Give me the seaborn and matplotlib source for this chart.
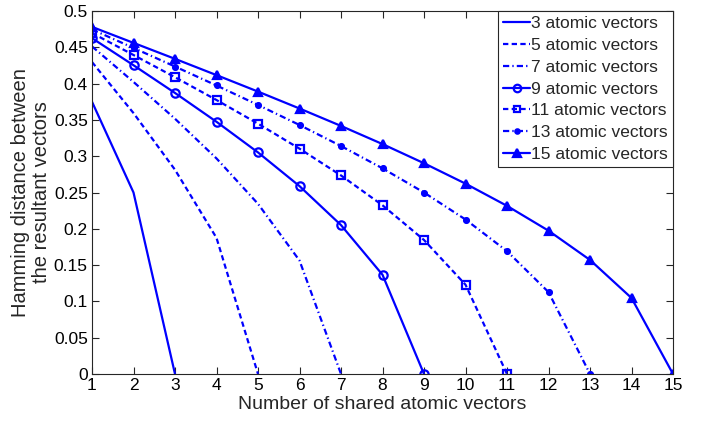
import matplotlib
matplotlib.use("Agg")
import matplotlib.pyplot as plt
import seaborn as sns
import pandas as pd

# Data: Hamming distance between resultant vectors vs number of shared atomic vectors
n3 = [0.375, 0.25, 0.0]
n5 = [0.4297, 0.3594, 0.2813, 0.1875, 0.0]
n7 = [0.4512, 0.4023, 0.3516, 0.2969, 0.2344, 0.1563, 0.0]
n9 = [0.4626, 0.4253, 0.3871, 0.3474, 0.3052, 0.2588, 0.2051, 0.1367, 0.0]
n11 = [0.4697, 0.4394, 0.4088, 0.3774, 0.3448, 0.3104, 0.2735, 0.2324, 0.1846, 0.1230, 0.0]
n13 = [0.4746, 0.4491, 0.4235, 0.3974, 0.3706, 0.3430, 0.3140, 0.2833, 0.2500, 0.2128,
       0.1692, 0.1128, 0.0]
n15 = [0.4781, 0.4561, 0.4341, 0.4117, 0.3890, 0.3657, 0.3417, 0.3167, 0.2903, 0.2622,
       0.2316, 0.1974, 0.1571, 0.1047, 0.0]
labels = ["3 atomic vectors", "5 atomic vectors", "7 atomic vectors", "9 atomic vectors",
          "11 atomic vectors", "13 atomic vectors", "15 atomic vectors"]
series = [n3, n5, n7, n9, n11, n13, n15]
x_ticks = list(range(1, 16))
y_ticks = [0, 0.05, 0.1, 0.15, 0.2, 0.25, 0.3, 0.35, 0.4, 0.45, 0.5]
y_tick_labels = ["0", "0.05", "0.1", "0.15", "0.2", "0.25", "0.3", "0.35", "0.4", "0.45", "0.5"]

sns.set_theme(style="white")
plt.rcParams["font.family"] = ["Liberation Sans", "DejaVu Sans"]
plt.rcParams["xtick.direction"] = "in"
plt.rcParams["ytick.direction"] = "in"

fig = plt.figure(figsize=(7.10, 4.22), dpi=100)
ax = fig.add_axes([92 / 710, 1 - 374 / 422, (673 - 92) / 710, (374 - 11) / 422])

dashed = (0, (2.4, 1.5))
dashdot = (0, (2.8, 1.4, 0.6, 1.4))
styles = [
    dict(linestyle="-", marker=None),
    dict(linestyle=dashed, marker=None),
    dict(linestyle=dashdot, marker=None),
    dict(linestyle="-", marker="o", markersize=6, markerfacecolor="none"),
    dict(linestyle=dashed, marker="s", markersize=5.5, markerfacecolor="none"),
    dict(linestyle=dashdot, marker="o", markersize=3.5, markerfacecolor="#0000ff"),
    dict(linestyle="-", marker="^", markersize=6, markerfacecolor="#0000ff"),
]

for vals, lab, st in zip(series, labels, styles):
    df = pd.DataFrame({"x": list(range(1, len(vals) + 1)), "y": vals})
    sns.lineplot(data=df, x="x", y="y", ax=ax, color="#0000ff", linewidth=1.6,
                 label=lab, markeredgewidth=1.6, markeredgecolor="#0000ff", **st)

ax.set_xlim(1, 15)
ax.set_ylim(0, 0.5)
ax.set_xticks(x_ticks)
ax.set_xticklabels([str(v) for v in x_ticks])
ax.set_yticks(y_ticks)
ax.set_yticklabels(y_tick_labels)
ax.tick_params(axis="both", which="both", direction="in", length=5, width=0.8,
               labelsize=12.5, colors="#262626", top=True, right=True, bottom=True, left=True,
               labelcolor="black", pad=3)
for sp in ax.spines.values():
    sp.set_visible(True)
    sp.set_color("#262626")
    sp.set_linewidth(0.8)

ax.set_xlabel("Number of shared atomic vectors", fontsize=14, labelpad=2)
ax.set_ylabel("Hamming distance between\nthe resultant vectors", fontsize=14.5, labelpad=2,
              linespacing=1.15)

leg = ax.legend(loc="upper right", fontsize=12.5, frameon=True, fancybox=False,
                edgecolor="#262626", framealpha=1, handlelength=1.55, handletextpad=0.05,
                borderaxespad=0, borderpad=0.3, labelspacing=0.38, markerscale=0.9)
leg.get_frame().set_linewidth(0.8)

fig.savefig("out.png", dpi=100)
